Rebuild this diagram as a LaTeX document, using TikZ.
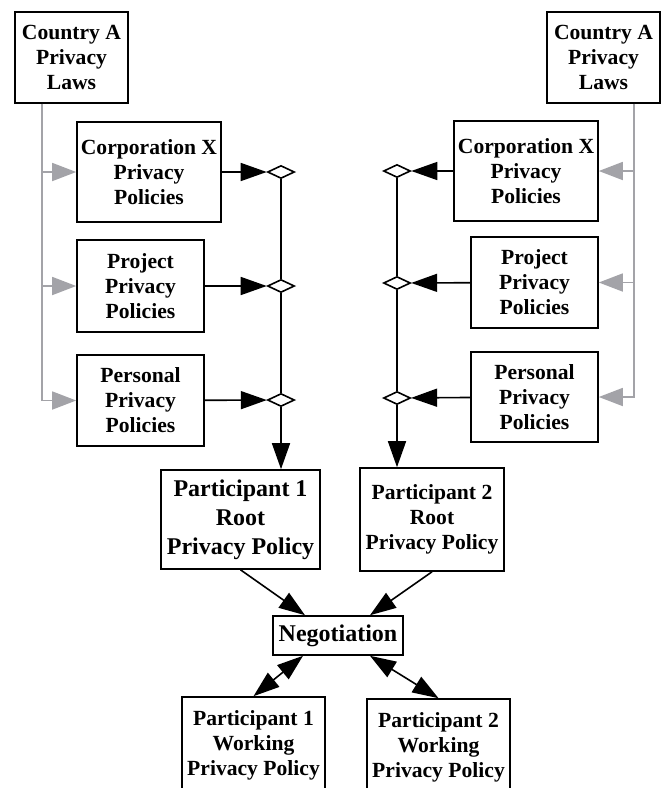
\documentclass[tikz,border=0pt]{standalone}
\usepackage{fontspec}
\setmainfont{Liberation Serif}
\usetikzlibrary{arrows.meta, positioning, shapes.geometric}
\definecolor{lawGray}{RGB}{163,163,168}
\tikzstyle{blkArrow} = [-{Triangle[length=13pt,width=9pt]}]
\tikzstyle{grayArrow} = [lawGray, -{Triangle[length=12pt,width=9pt]}]
\tikzstyle{dualArrow} = [{Triangle[length=13pt,width=9pt]}-{Triangle[length=13pt,width=9pt]}]
\tikzstyle{joinDiamond} = [draw, diamond, fill=white, inner sep=0pt,
   minimum width=13.5pt, minimum height=6.5pt]
\tikzstyle{bigText} = [font=\bfseries\fontsize{12}{14.5}\selectfont]

\begin{document}
\begin{tikzpicture}[
  x=0.5pt, y=-0.5pt,
  line width=0.8pt,
  font=\bfseries\fontsize{10.8}{12.5}\selectfont,
  align=center, inner sep=1pt,
  ]
  \useasboundingbox (0,0) rectangle (665,788);
  % laws on both sides
  \node[draw,rectangle,minimum width=56.5pt,minimum height=45.5pt] (lawsL) at (71.5,57.5) {Country A\\Privacy\\Laws};
  \node[draw,rectangle,minimum width=56.5pt,minimum height=45.5pt] (lawsR) at (603.5,57.5) {Country A\\Privacy\\Laws};
  % policies, left
  \node[draw,rectangle,minimum width=72pt,minimum height=50pt] (corpL) at (149,172) {Corporation X\\Privacy\\Policies};
  \node[draw,rectangle,minimum width=63.5pt,minimum height=46pt] (projL) at (140.5,286) {Project\\Privacy\\Policies};
  \node[draw,rectangle,minimum width=63.5pt,minimum height=45.5pt] (persL) at (140.5,400.5) {Personal\\Privacy\\Policies};
  % policies, right
  \node[draw,rectangle,minimum width=72pt,minimum height=50pt] (corpR) at (526,171) {Corporation X\\Privacy\\Policies};
  \node[draw,rectangle,minimum width=63.5pt,minimum height=45.5pt] (projR) at (534.5,282.5) {Project\\Privacy\\Policies};
  \node[draw,rectangle,minimum width=63.5pt,minimum height=45pt] (persR) at (534.5,397) {Personal\\Privacy\\Policies};
  % joins
  \node[joinDiamond] (dL1) at (281,172) {};
  \node[joinDiamond] (dL2) at (281,286) {};
  \node[joinDiamond] (dL3) at (281,400) {};
  \node[joinDiamond] (dR1) at (397,171) {};
  \node[joinDiamond] (dR2) at (397,283) {};
  \node[joinDiamond] (dR3) at (397,398) {};
  % root policies and negotiation
  \node[draw,rectangle,bigText,minimum width=79.5pt,minimum height=49.5pt] (rootA) at (240.5,519.5) {Participant 1\\Root\\Privacy Policy};
  \node[draw,rectangle,minimum width=72pt,minimum height=51.5pt] (rootB) at (432,519.5) {Participant 2\\Root\\Privacy Policy};
  \node[draw,rectangle,bigText,minimum width=65pt,minimum height=19.5pt] (nego) at (338,635.5) {Negotiation};
  \node[draw,rectangle,minimum width=71.5pt,minimum height=48pt] (workA) at (253.5,745) {Participant 1\\Working\\Privacy Policy};
  \node[draw,rectangle,minimum width=71.5pt,minimum height=48pt] (workB) at (438.5,747) {Participant 2\\Working\\Privacy Policy};

  \draw[grayArrow] ([xshift=14pt]lawsL.south west) |- (corpL.west);
  \draw[grayArrow] ([xshift=14pt]lawsL.south west) |- (projL.west);
  \draw[grayArrow] ([xshift=14pt]lawsL.south west) |- (persL.west);
  \draw[grayArrow] ([xshift=-13.5pt]lawsR.south east) |- (corpR.east);
  \draw[grayArrow] ([xshift=-13.5pt]lawsR.south east) |- (projR.east);
  \draw[grayArrow] ([xshift=-13.5pt]lawsR.south east) |- (persR.east);

  \draw[blkArrow] (corpL) to (dL1);
  \draw[blkArrow] (projL) to (dL2);
  \draw[blkArrow] (persL) to (dL3);
  \draw[blkArrow] (corpR) to (dR1);
  \draw[blkArrow] (projR) to (dR2);
  \draw[blkArrow] (persR) to (dR3);
  \draw (dL1.south) -- (dL2.north) (dL2.south) -- (dL3.north);
  \draw (dR1.south) -- (dR2.north) (dR2.south) -- (dR3.north);
  \draw[blkArrow] (dL3.south) -- (dL3.south |- rootA.north);
  \draw[blkArrow] (dR3.south) -- (dR3.south |- rootB.north);

  \draw[blkArrow] (rootA.south) -- ([xshift=-16.5pt]nego.north);
  \draw[blkArrow] (rootB.south) -- ([xshift=16pt]nego.north);
  \draw[dualArrow] ([xshift=-17.5pt]nego.south) -- (workA.north);
  \draw[dualArrow] ([xshift=16pt]nego.south) -- (workB.north);
\end{tikzpicture}
\end{document}
